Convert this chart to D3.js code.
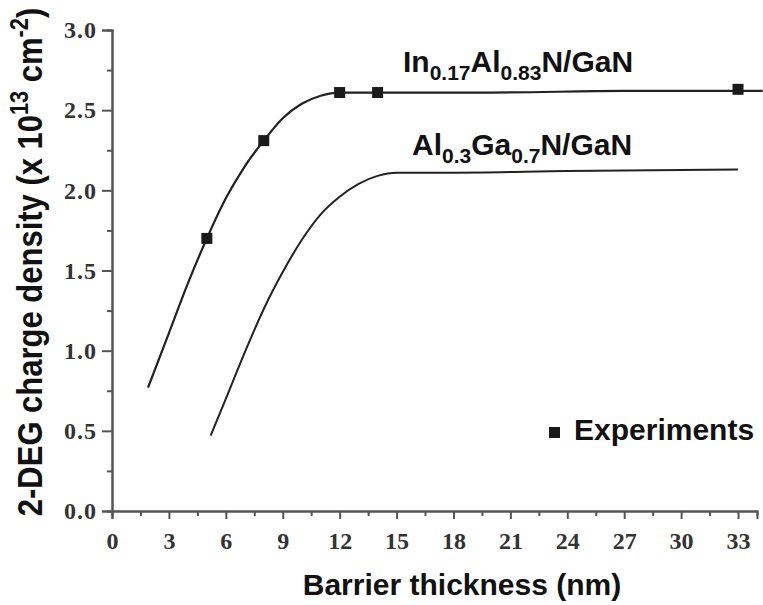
<!DOCTYPE html>
<html>
<head>
<meta charset="utf-8">
<script src="https://cdn.jsdelivr.net/npm/d3@7"></script>
<style>
  html, body { margin: 0; padding: 0; background: #fff; }
  svg { display: block; }
</style>
</head>
<body>
<svg id="chart" width="763" height="605"></svg>
<script>
// Barrier thickness (nm) vs. 2-DEG sheet charge density (x 10^13 cm^-2)
const inAlNThickness = [1.9, 3, 4, 5, 6, 7, 8, 9, 10, 11, 12, 14, 20, 27, 33, 34.3];
const inAlNDensity   = [0.77, 1.11, 1.42, 1.70, 1.95, 2.15, 2.31, 2.45, 2.54, 2.59, 2.61, 2.61, 2.61, 2.62, 2.62, 2.62];

const alGaNThickness = [5.2, 6, 7, 8, 9, 10, 11, 12, 13, 14, 15, 18, 24, 33];
const alGaNDensity   = [0.47, 0.70, 0.99, 1.26, 1.49, 1.69, 1.85, 1.96, 2.04, 2.09, 2.11, 2.11, 2.12, 2.13];

const experimentThickness = [5, 8, 12, 14, 33];
const experimentDensity   = [1.70, 2.31, 2.61, 2.61, 2.63];

const xTickValues = [0, 3, 6, 9, 12, 15, 18, 21, 24, 27, 30, 33];
const yTickValues = [0.0, 0.5, 1.0, 1.5, 2.0, 2.5, 3.0];

const svg = d3.select("#chart");

const x = d3.scaleLinear().domain([0, 34]).range([112, 757]);
const y = d3.scaleLinear().domain([0, 3]).range([511, 30]);

const axisColor = "#555";
const tickFont = "'Liberation Serif', 'Times New Roman', serif";
const sansFont = "'Liberation Sans', Arial, Helvetica, sans-serif";

// minor ticks
const xMinor = d3.range(1.5, 34, 3);
const yMinor = d3.range(0.25, 3, 0.5);

function styleTicks(g) {
  g.selectAll(".domain").attr("stroke", axisColor).attr("stroke-width", 2);
  g.selectAll(".tick line").attr("stroke", axisColor).attr("stroke-width", 2);
  g.selectAll(".tick text")
    .attr("fill", "#333")
    .style("font-family", tickFont)
    .style("font-weight", "bold")
    .style("font-size", "24px");
}

const gx = svg.append("g").attr("transform", `translate(0,${y(0)})`);
gx.call(d3.axisBottom(x).tickValues(xMinor).tickSize(5).tickFormat(""));
gx.append("g").call(d3.axisBottom(x).tickValues(xTickValues).tickSize(8).tickPadding(13).tickFormat(d3.format("d")));
styleTicks(gx);

const gy = svg.append("g").attr("transform", `translate(${x(0)},0)`);
gy.call(d3.axisLeft(y).tickValues(yMinor).tickSize(5).tickFormat(""));
gy.append("g").call(d3.axisLeft(y).tickValues(yTickValues).tickSize(10).tickPadding(5).tickFormat(d3.format(".1f")));
styleTicks(gy);
gy.selectAll(".tick text").style("letter-spacing", "1px");

// simulated curves
const line = d3.line()
  .x(d => x(d[0]))
  .y(d => y(d[1]))
  .curve(d3.curveMonotoneX);

svg.append("path")
  .datum(d3.zip(inAlNThickness, inAlNDensity))
  .attr("d", line)
  .attr("fill", "none")
  .attr("stroke", "#222")
  .attr("stroke-width", 2.2);

svg.append("path")
  .datum(d3.zip(alGaNThickness, alGaNDensity))
  .attr("d", line)
  .attr("fill", "none")
  .attr("stroke", "#222")
  .attr("stroke-width", 2);

// experimental points
const sq = 11;
svg.selectAll("rect.exp")
  .data(d3.zip(experimentThickness, experimentDensity))
  .join("rect")
  .attr("class", "exp")
  .attr("x", d => x(d[0]) - sq / 2)
  .attr("y", d => y(d[1]) - sq / 2)
  .attr("width", sq)
  .attr("height", sq)
  .attr("fill", "#1a1a1a");

// text with subscripts / superscripts
function richText(parent, parts, size) {
  const t = parent.append("text")
    .style("font-family", sansFont)
    .style("font-weight", "bold")
    .style("font-size", size + "px")
    .attr("fill", "#111");
  let shift = 0;
  parts.forEach(p => {
    const target = p.sub ? size * 0.25 : p.sup ? -size * 0.4 : 0;
    t.append("tspan")
      .attr("dy", target - shift)
      .style("font-size", (p.sub || p.sup ? size * 0.7 : size) + "px")
      .text(p.t);
    shift = target;
  });
  return t;
}

richText(svg, [
  {t: "In"}, {t: "0.17", sub: true}, {t: "Al"}, {t: "0.83", sub: true}, {t: "N/GaN"}
], 30).attr("x", 403).attr("y", 72);

richText(svg, [
  {t: "Al"}, {t: "0.3", sub: true}, {t: "Ga"}, {t: "0.7", sub: true}, {t: "N/GaN"}
], 30).attr("x", 412).attr("y", 155);

// legend
svg.append("rect")
  .attr("x", 549).attr("y", 427).attr("width", sq).attr("height", sq)
  .attr("fill", "#1a1a1a");
svg.append("text")
  .attr("x", 574).attr("y", 440)
  .style("font-family", sansFont)
  .style("font-weight", "bold")
  .style("font-size", "30px")
  .attr("fill", "#111")
  .text("Experiments");

// axis titles
svg.append("text")
  .attr("x", 462).attr("y", 595)
  .attr("text-anchor", "middle")
  .style("font-family", sansFont)
  .style("font-weight", "bold")
  .style("font-size", "30px")
  .attr("fill", "#111")
  .text("Barrier thickness (nm)");

richText(svg.append("g").attr("transform", "translate(42,262) rotate(-90) scale(1,1.15)"), [
  {t: "2-DEG charge density (x 10"}, {t: "13", sup: true}, {t: " cm"}, {t: "-2", sup: true}, {t: ")"}
], 31).attr("text-anchor", "middle");
</script>
</body>
</html>
